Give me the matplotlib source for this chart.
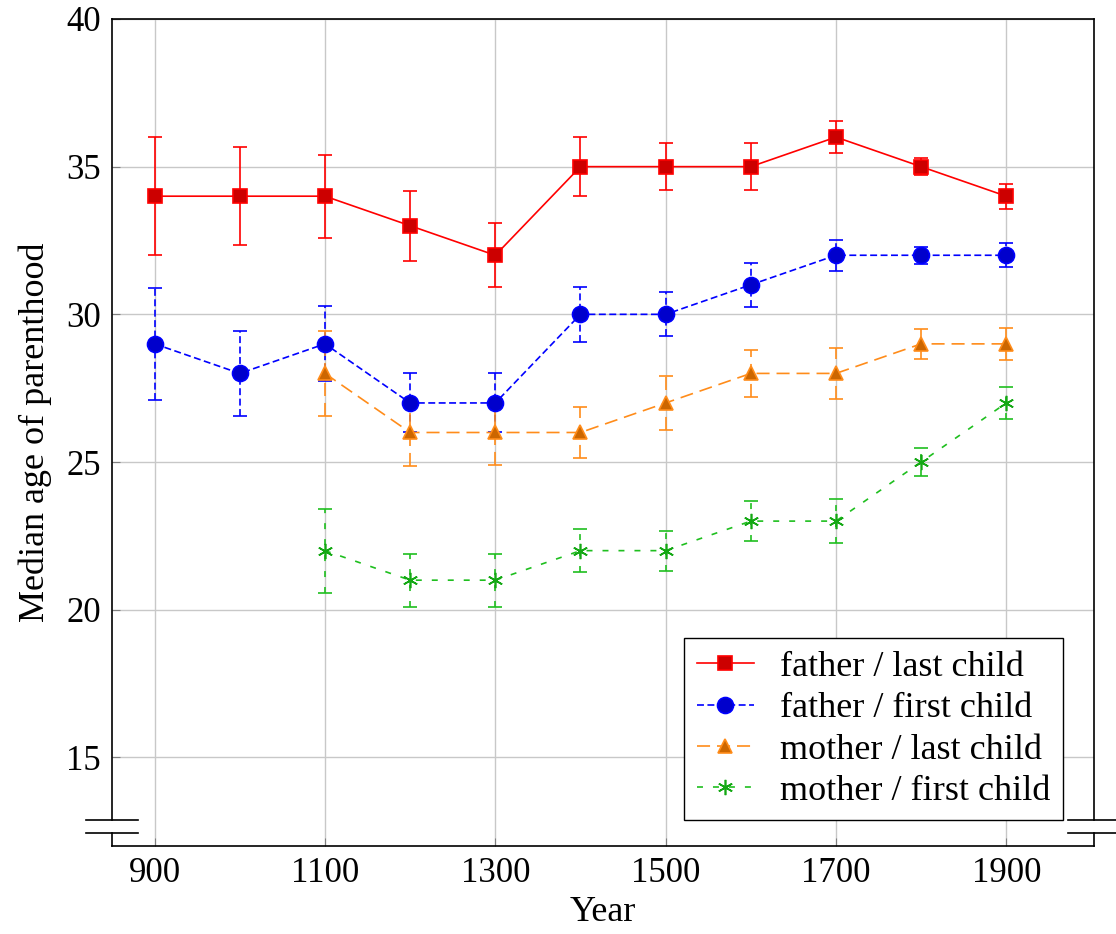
import matplotlib
matplotlib.use("Agg")
import matplotlib.pyplot as plt

plt.rcParams['font.family'] = ['Liberation Serif', 'DejaVu Serif']
plt.rcParams['lines.scale_dashes'] = False

# data
years_all = [900, 1000, 1100, 1200, 1300, 1400, 1500, 1600, 1700, 1800, 1900]
years_late = [1100, 1200, 1300, 1400, 1500, 1600, 1700, 1800, 1900]

father_last = [34, 34, 34, 33, 32, 35, 35, 35, 36, 35, 34]
father_last_err = [2.0, 1.65, 1.4, 1.18, 1.08, 1.0, 0.8, 0.8, 0.55, 0.28, 0.42]

father_first = [29, 28, 29, 27, 27, 30, 30, 31, 32, 32, 32]
father_first_err = [1.9, 1.45, 1.27, 1.0, 1.0, 0.93, 0.75, 0.74, 0.52, 0.28, 0.4]

mother_last = [28, 26, 26, 26, 27, 28, 28, 29, 29]
mother_last_err = [1.45, 1.15, 1.1, 0.87, 0.9, 0.8, 0.87, 0.5, 0.55]

mother_first = [22, 21, 21, 22, 22, 23, 23, 25, 27]
mother_first_err = [1.42, 0.9, 0.9, 0.73, 0.68, 0.68, 0.75, 0.48, 0.54]

series = [
    (years_all, father_last, father_last_err, 'father / last child',
     '#ff0000', '#cc0000', 's', 10, '-'),
    (years_all, father_first, father_first_err, 'father / first child',
     '#0000ff', '#0000cc', 'o', 11.5, (0, (5, 2.5))),
    (years_late, mother_last, mother_last_err, 'mother / last child',
     '#ff8c1a', '#cc6600', '^', 10, (0, (9.4, 5))),
    (years_late, mother_first, mother_first_err, 'mother / first child',
     '#1fbf1f', '#14a814', (6, 2, 0), 11, (0, (4.3, 7.2))),
]

fig = plt.figure(figsize=(11.16, 9.34), dpi=100)
ax = fig.add_axes([0.1004, 0.0942, 0.8799, 0.8855])

handles = []
for x, y, err, label, lc, mc, mk, ms, ls in series:
    eb = ax.errorbar(x, y, yerr=err, color=lc, lw=1.2, ls=ls, marker=mk,
                     ms=ms, mfc=mc, mec=lc if mk != (6, 2, 0) else mc,
                     mew=1.2, capsize=4.7, capthick=1.2, elinewidth=1.2,
                     ecolor=lc, zorder=3)
    for coll in eb[2]:
        coll.set_linestyle(ls)
    handles.append((eb[0], label))

ax.set_xlim(850, 2003)
ax.set_ylim(12, 40)
ax.set_xticks(years_all[::2])
ax.set_yticks([15, 20, 25, 30, 35, 40])
ax.grid(True, color='#c8c8c8', lw=1.0, zorder=0)
ax.set_axisbelow(True)
ax.tick_params(direction='in', length=6, color='#808080', labelsize=25,
               labelcolor='black', pad=8)
ax.set_xlabel('Year', fontsize=26, labelpad=4)
ax.set_ylabel('Median age of parenthood', fontsize=26, labelpad=10)

# y axis discontinuity (crunch) on both sides
ax.spines['left'].set_visible(False)
ax.spines['right'].set_visible(False)
ax.spines['top'].set_linewidth(1.2)
ax.spines['bottom'].set_linewidth(1.2)
y_lo, y_hi = 0.0157, 0.0314
dx = 0.0265
for xs in (0, 1):
    ax.plot([xs, xs], [y_hi, 1], color='black', lw=1.2,
            transform=ax.transAxes, clip_on=False)
    ax.plot([xs, xs], [0, y_lo], color='black', lw=1.2,
            transform=ax.transAxes, clip_on=False)
    for yy in (y_lo, y_hi):
        ax.plot([xs - dx, xs + dx], [yy, yy], color='black', lw=1.2,
                transform=ax.transAxes, clip_on=False)

leg = ax.legend([h for h, _ in handles], [l for _, l in handles],
                loc='lower right', bbox_to_anchor=(0.968, 0.031),
                borderaxespad=0, fontsize=26, frameon=True, fancybox=False,
                framealpha=1, edgecolor='black', handlelength=1.6,
                labelspacing=0.22, borderpad=0.35, handletextpad=0.7)
leg.get_frame().set_linewidth(1.0)

fig.savefig('out.png', dpi=100)
